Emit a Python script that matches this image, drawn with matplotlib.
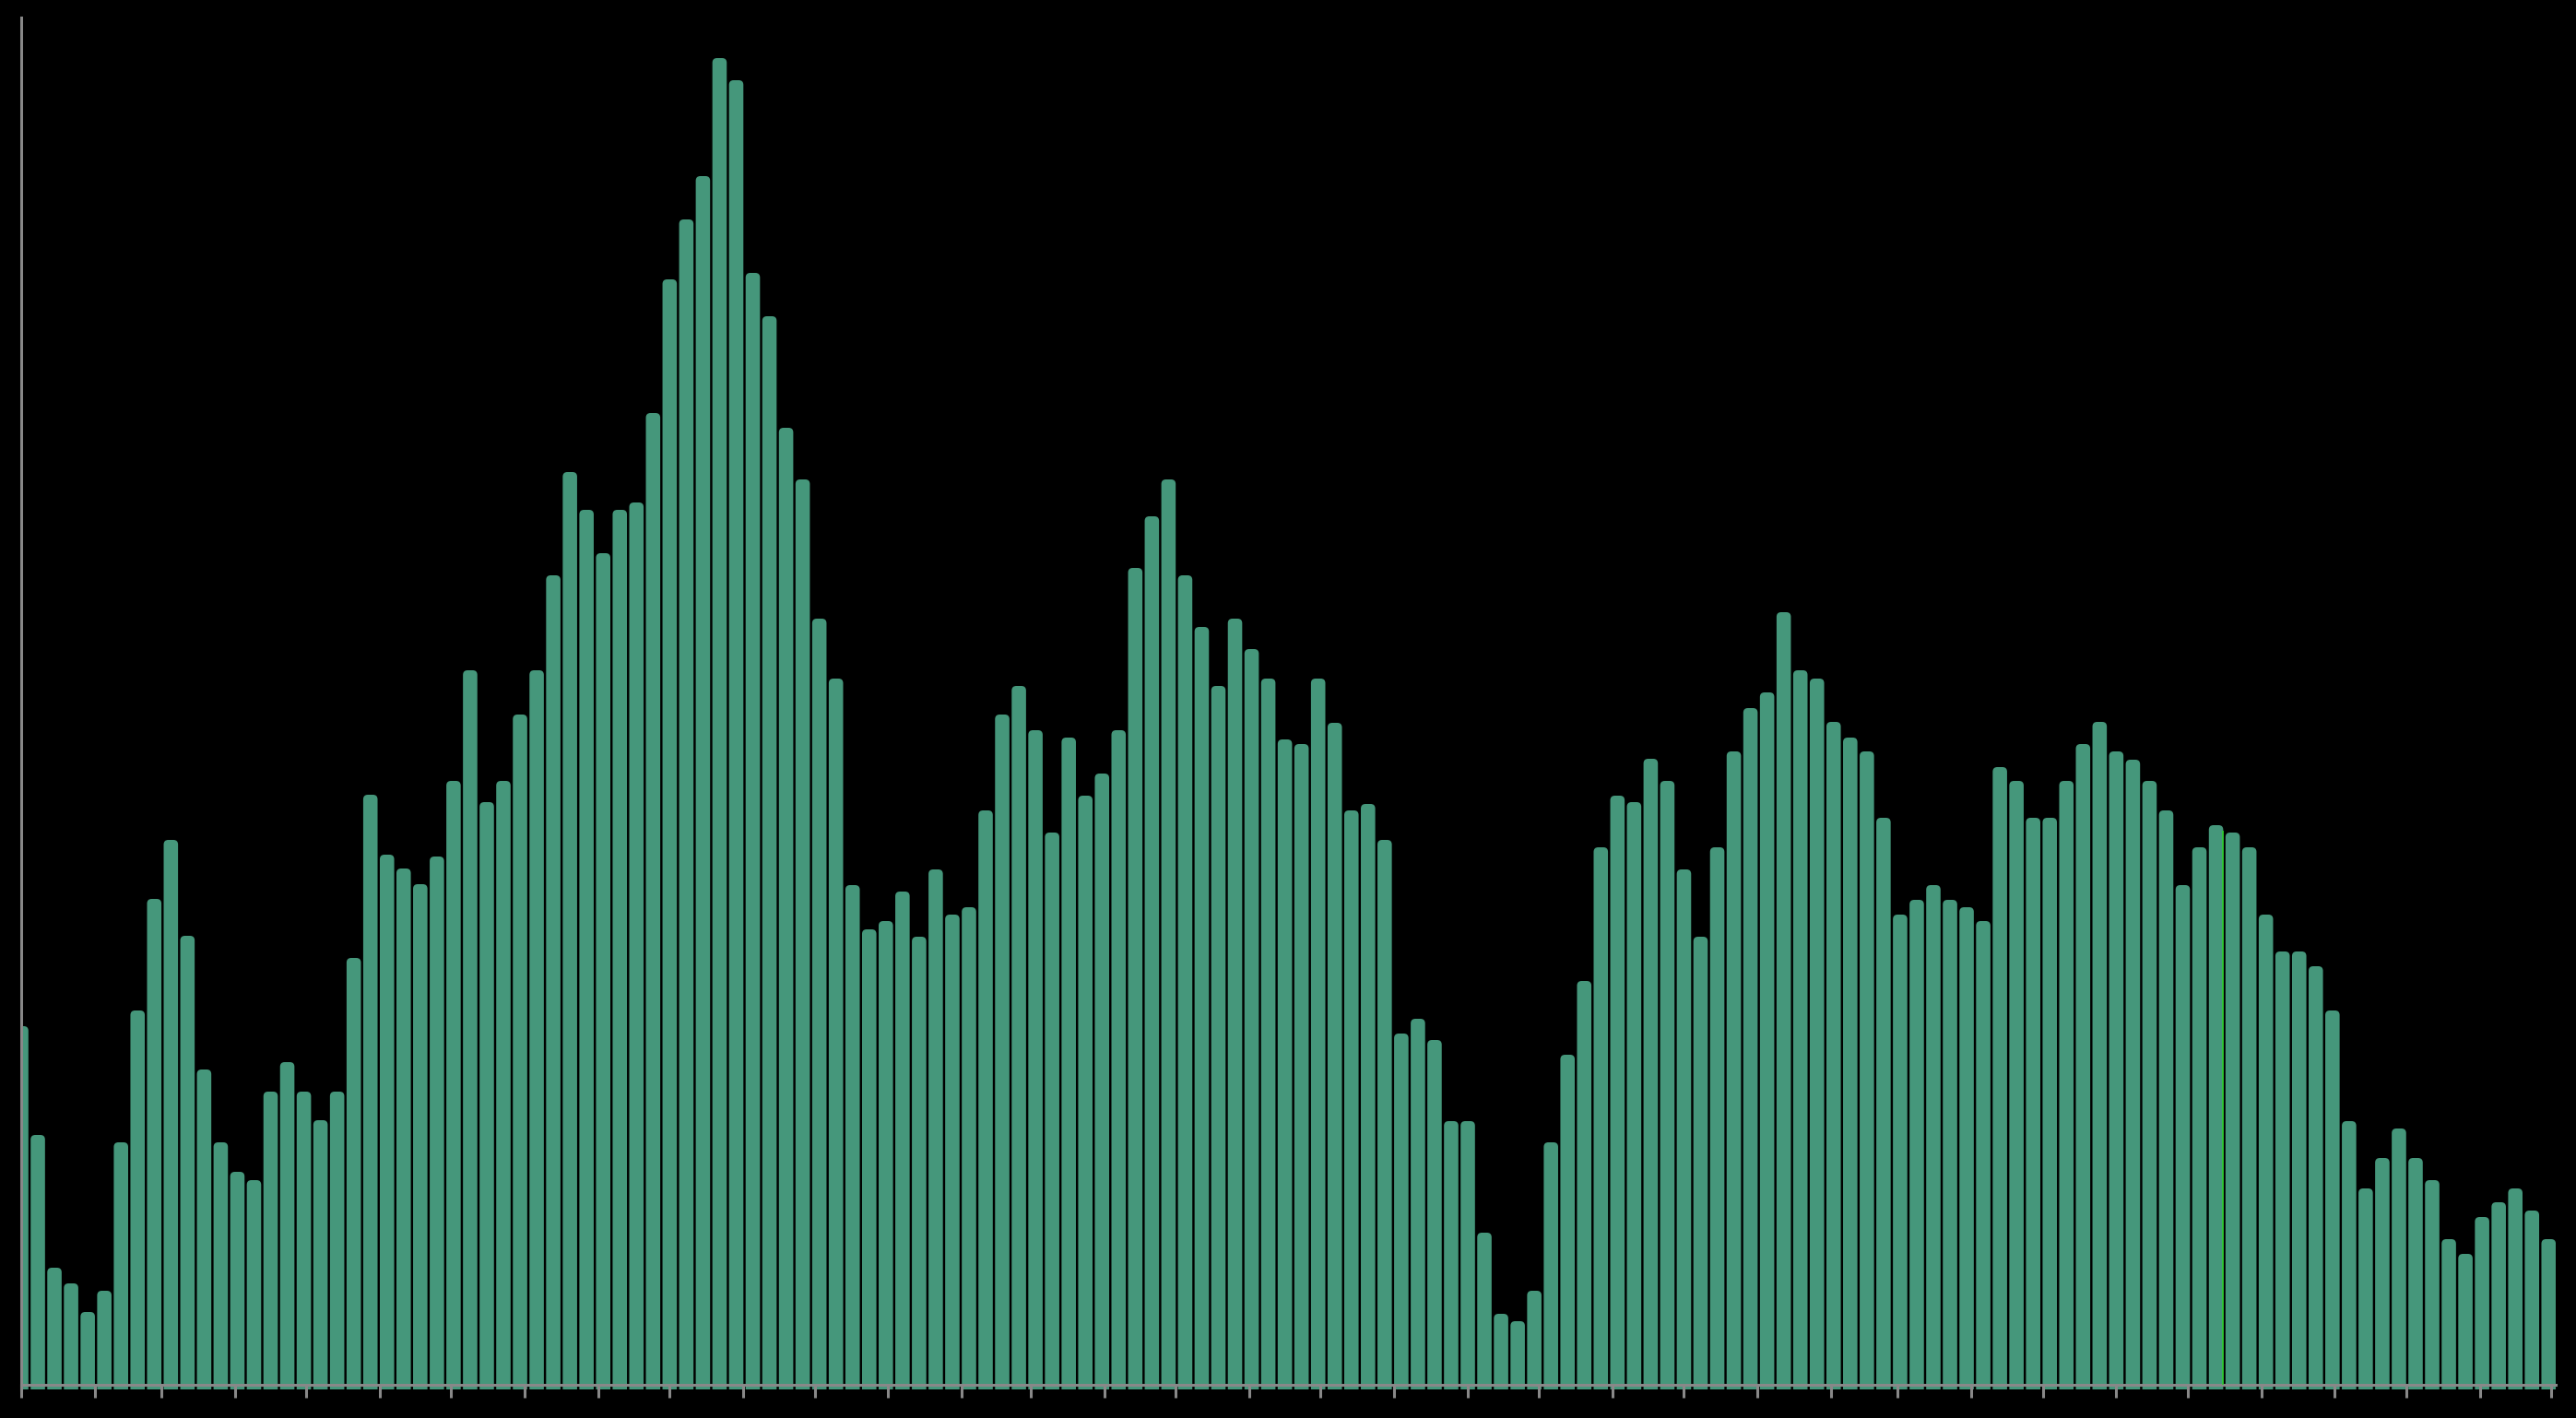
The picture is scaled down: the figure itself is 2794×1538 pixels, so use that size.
import matplotlib
matplotlib.use("Agg")
import matplotlib.pyplot as plt
import matplotlib.dates as mdates
from matplotlib.patches import FancyBboxPatch
import pandas as pd

# weekly counts
weeks = pd.date_range("2019-01-01", periods=153, freq="7D")
counts = [
    389, 271, 127, 110, 79, 102, 263, 406, 527, 591,
    487, 342, 263, 231, 222, 318, 350, 318, 287, 318,
    463, 640, 575, 560, 543, 573, 655, 775, 632, 655,
    727, 775, 878, 990, 949, 902, 949, 957, 1054, 1199,
    1264, 1311, 1439, 1415, 1206, 1159, 1038, 982, 831, 766,
    542, 494, 503, 535, 486, 559, 510, 518, 623, 727,
    758, 710, 599, 702, 639, 663, 710, 886, 942, 982,
    878, 822, 758, 831, 798, 766, 700, 695, 766, 718,
    623, 630, 591, 381, 397, 374, 286, 286, 165, 77,
    69, 102, 263, 358, 438, 583, 639, 632, 679, 655,
    559, 486, 583, 687, 734, 751, 838, 775, 766, 719,
    702, 687, 615, 510, 526, 542, 526, 518, 503, 670,
    655, 615, 615, 655, 695, 719, 687, 678, 655, 623,
    542, 583, 607, 599, 583, 510, 470, 470, 454, 406,
    286, 213, 246, 278, 246, 222, 158, 142, 182, 198,
    213, 189, 158,
]
highlight = 132  # bar with the bright green edge

W, H = 2794, 1538
fig = plt.figure(figsize=(W / 100, H / 100), dpi=100, facecolor="black")
ax = fig.add_axes([23 / W, (H - 1507) / H, (2772 - 23) / W, (1507 - 19) / H])
ax.set_facecolor("black")

x = mdates.date2num(weeks)
span_days = 1067
ax.set_xlim(x[0], x[0] + span_days)
ax.set_ylim(-5, 1483)

bar_w = 6.05
bar_color = "#45977b"
bars = ax.bar(x, counts, width=bar_w, color=bar_color)

# swap plain bars for ones with rounded tops
px_per_day = (2772 - 23) / span_days
px_per_unit = (1507 - 19) / 1488
radius_px = 5
aspect = px_per_day / px_per_unit
for rect in bars:
    x0, h = rect.get_x(), rect.get_height()
    rect.remove()
    ax.add_patch(FancyBboxPatch(
        (x0, -20), bar_w, h + 20,
        boxstyle=f"round,pad=0,rounding_size={radius_px / px_per_day}",
        mutation_aspect=aspect, facecolor=bar_color, edgecolor="none"))

ax.vlines(x[highlight] + bar_w / 2, 0, counts[highlight] - 6,
          color="#2ed12e", lw=1.2, zorder=3)

for side in ["top", "right"]:
    ax.spines[side].set_visible(False)
for side in ["left", "bottom"]:
    ax.spines[side].set_color("#888888")
    ax.spines[side].set_linewidth(2.2)
ax.spines["bottom"].set_position(("data", 0))

ax.xaxis.set_major_locator(mdates.MonthLocator())
ax.tick_params(axis="x", length=10, width=2.2, color="#888888",
               labelbottom=False, direction="out")
ax.set_yticks([])

fig.savefig("out.png", dpi=100, facecolor="black")
